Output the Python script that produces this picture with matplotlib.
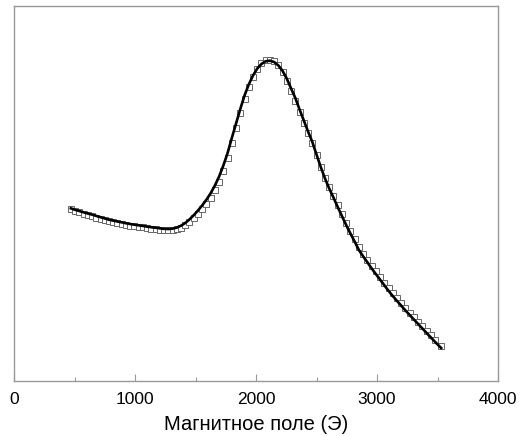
import matplotlib
matplotlib.use("Agg")
import matplotlib.pyplot as plt
from matplotlib.ticker import MultipleLocator

plt.rcParams['font.family'] = ['Liberation Sans', 'DejaVu Sans']

# magnetic field, Oe
field = [470, 505, 540, 575, 610, 645, 680, 715, 750, 785,
         820, 855, 890, 925, 960, 995, 1030, 1065, 1100, 1135,
         1170, 1205, 1240, 1275, 1310, 1345, 1380, 1415, 1450, 1485,
         1520, 1555, 1590, 1625, 1660, 1695, 1730, 1765, 1800, 1835,
         1870, 1905, 1940, 1975, 2010, 2045, 2080, 2115, 2150, 2185,
         2220, 2255, 2290, 2325, 2360, 2395, 2430, 2465, 2500, 2535,
         2570, 2605, 2640, 2675, 2710, 2745, 2780, 2815, 2850, 2885,
         2920, 2955, 2990, 3025, 3060, 3095, 3130, 3165, 3200, 3235,
         3270, 3305, 3340, 3375, 3410, 3445, 3480, 3530]

# fitted curve (arb. units)
fit = [172.7, 171.2, 170.0, 168.7, 167.5, 166.4, 165.1, 163.8, 162.6, 161.3,
       160.4, 159.5, 158.7, 157.8, 157.0, 156.3, 155.7, 155.1, 154.4, 153.8,
       153.3, 152.7, 152.2, 152.0, 152.4, 153.4, 155.3, 158.0, 161.6, 165.8,
       170.5, 175.6, 181.3, 187.8, 195.5, 204.5, 215.5, 228.0, 243.0, 257.5,
       272.0, 285.5, 296.5, 305.5, 312.5, 317.0, 319.8, 320.3, 319.0, 315.5,
       310.0, 302.2, 292.5, 283.0, 271.5, 260.5, 249.5, 239.2, 226.5, 214.0,
       202.5, 192.5, 183.5, 174.0, 165.0, 156.0, 147.5, 139.5, 131.0, 124.7,
       118.8, 112.7, 107.0, 101.5, 95.8, 90.2, 85.0, 80.1, 75.4, 70.5,
       66.0, 61.5, 57.0, 52.5, 48.0, 43.6, 39.1, 33.0]

# measured points (arb. units)
meas = [172.0, 170.0, 168.6, 167.2, 165.9, 164.8, 163.5, 162.2, 161.0, 159.8,
        158.9, 158.0, 157.2, 156.3, 155.5, 154.8, 154.2, 153.6, 152.9, 152.3,
        151.8, 151.2, 150.7, 150.6, 150.9, 151.7, 153.5, 156.0, 159.3, 163.3,
        167.5, 172.3, 177.5, 183.5, 191.0, 199.5, 210.5, 223.0, 238.0, 253.0,
        268.0, 282.0, 294.0, 304.0, 312.0, 318.0, 321.0, 321.5, 320.0, 316.0,
        309.0, 300.0, 290.0, 280.0, 269.0, 258.5, 248.0, 238.0, 226.0, 214.5,
        203.5, 194.0, 185.0, 176.0, 167.0, 158.5, 150.0, 142.0, 134.0, 127.5,
        121.5, 115.5, 110.0, 104.5, 98.5, 93.0, 88.0, 83.0, 78.0, 73.0,
        68.5, 64.0, 59.5, 55.0, 50.5, 46.0, 41.5, 35.0]

fig = plt.figure(figsize=(5.21, 4.36), dpi=100)
ax = fig.add_axes([0.0269, 0.1261, 0.9290, 0.8601])

ax.plot(field, meas, linestyle='none', marker='s', markersize=4.4,
        markerfacecolor='white', markeredgecolor='#666666', markeredgewidth=0.7)
ax.plot(field, fit, color='black', linewidth=1.9)

ax.set_xlim(0, 4000)
ax.set_ylim(0, 375)
ax.xaxis.set_major_locator(MultipleLocator(1000))
ax.xaxis.set_minor_locator(MultipleLocator(500))
ax.set_yticks([])
ax.tick_params(axis='x', which='major', direction='in', length=5, width=0.8,
               color='#999999', labelsize=12.5, pad=8)
ax.tick_params(axis='x', which='minor', direction='in', length=3, width=0.8,
               color='#999999')
for s in ax.spines.values():
    s.set_color('#999999')
    s.set_linewidth(1.0)

ax.set_xlabel('Магнитное поле (Э)', fontsize=14.5, labelpad=6)

fig.savefig('out.png', dpi=100)
